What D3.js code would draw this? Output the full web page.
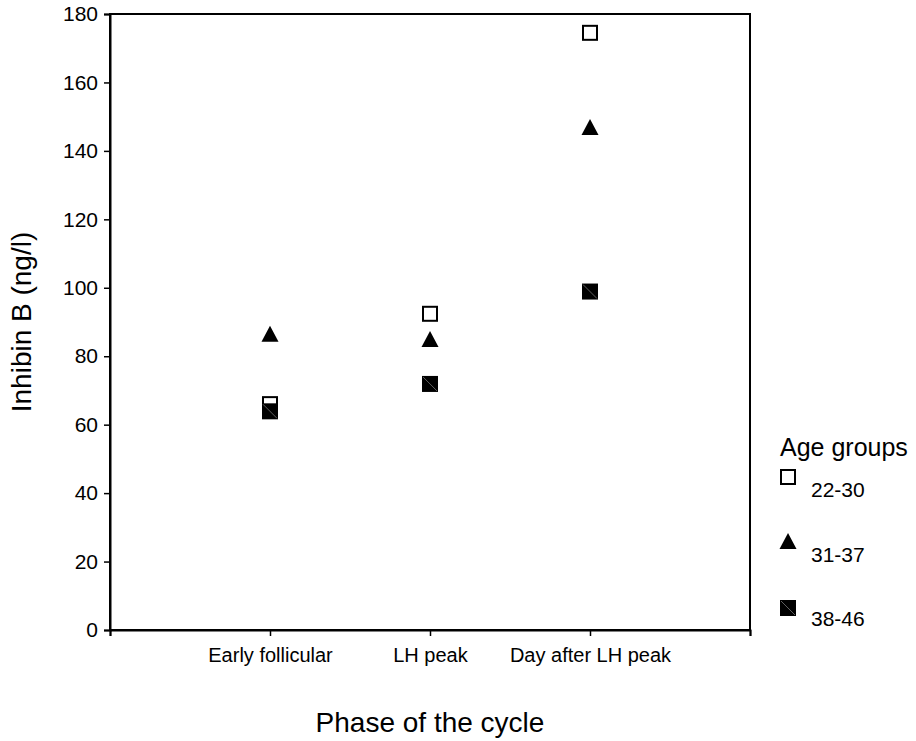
<!DOCTYPE html>
<html>
<head>
<meta charset="utf-8">
<script src="https://cdn.jsdelivr.net/npm/d3@7"></script>
<style>
  html, body { margin: 0; padding: 0; background: #fff; }
  svg { display: block; font-family: "Liberation Sans", Arial, sans-serif; }
</style>
</head>
<body>
<svg id="chart" width="916" height="741"></svg>
<script>
// Inhibin B by phase of the menstrual cycle, per age group
const phases = ["Early follicular", "LH peak", "Day after LH peak"];
const ageGroups = ["22-30", "31-37", "38-46"];
const inhibin2230 = [66.0, 92.4, 174.5];
const inhibin3137 = [86.6, 85.0, 147.0];
const inhibin3846 = [63.9, 71.9, 98.9];
const yTicks = [0, 20, 40, 60, 80, 100, 120, 140, 160, 180];

const series = [
  { name: ageGroups[0], values: inhibin2230, shape: "open" },
  { name: ageGroups[1], values: inhibin3137, shape: "triangle" },
  { name: ageGroups[2], values: inhibin3846, shape: "filled" }
];

const svg = d3.select("#chart");
const m = { left: 110, right: 750, top: 14, bottom: 630 };

// Categories sit at positions 1..3 of a 0..4 axis
const x = d3.scaleLinear().domain([0, phases.length + 1]).range([m.left, m.right]);
const y = d3.scaleLinear().domain([0, 180]).range([m.bottom, m.top]);

// Frame
svg.append("rect")
  .attr("x", m.left).attr("y", m.top)
  .attr("width", m.right - m.left).attr("height", m.bottom - m.top)
  .attr("fill", "none").attr("stroke", "#000").attr("stroke-width", 2);

// Y axis
const yAxis = svg.append("g")
  .attr("transform", `translate(${m.left},0)`)
  .call(d3.axisLeft(y).tickValues(yTicks).tickSize(6).tickPadding(6).tickFormat(d3.format("d")));
yAxis.select(".domain").attr("stroke-width", 2);
yAxis.selectAll(".tick line").attr("stroke-width", 1.5);
yAxis.selectAll(".tick text").attr("font-size", 21).attr("fill", "#000")
  .attr("font-family", "Liberation Sans, Arial, sans-serif");

// X axis
const xAxis = svg.append("g")
  .attr("transform", `translate(0,${m.bottom})`)
  .call(d3.axisBottom(x).tickValues(d3.range(0, phases.length + 2)).tickSize(6).tickPadding(12)
    .tickFormat(d => phases[d - 1] || ""));
xAxis.select(".domain").attr("stroke-width", 2);
xAxis.selectAll(".tick line").attr("stroke-width", 1.5);
xAxis.selectAll(".tick text").attr("font-size", 20).attr("fill", "#000")
  .attr("font-family", "Liberation Sans, Arial, sans-serif");

// Axis titles
svg.append("text")
  .attr("x", 430).attr("y", 732)
  .attr("text-anchor", "middle").attr("font-size", 28)
  .text("Phase of the cycle");
svg.append("text")
  .attr("transform", "translate(31,322) rotate(-90)")
  .attr("text-anchor", "middle").attr("font-size", 28)
  .text("Inhibin B (ng/l)");

// Marker drawing
const S = 16;
function drawMarker(g, shape) {
  if (shape === "open") {
    g.append("rect").attr("x", -S / 2 + 1).attr("y", -S / 2 + 1)
      .attr("width", S - 2).attr("height", S - 2)
      .attr("fill", "#fff").attr("stroke", "#000").attr("stroke-width", 2);
  } else if (shape === "triangle") {
    g.append("path")
      .attr("d", `M0,${-S / 2} L${S / 2 + 0.5},${S / 2} L${-S / 2 - 0.5},${S / 2} Z`)
      .attr("fill", "#000");
  } else {
    g.append("rect").attr("x", -S / 2).attr("y", -S / 2)
      .attr("width", S).attr("height", S).attr("fill", "#000");
    g.append("line")
      .attr("x1", -S / 2 + 1).attr("y1", -S / 2 + 1)
      .attr("x2", S / 2 - 1).attr("y2", S / 2 - 1)
      .attr("stroke", "#777").attr("stroke-width", 0.8);
  }
}

// Points
series.forEach(s => {
  s.values.forEach((v, i) => {
    const g = svg.append("g").attr("transform", `translate(${x(i + 1)},${y(v)})`);
    drawMarker(g, s.shape);
  });
});

// Legend
svg.append("text")
  .attr("x", 780).attr("y", 456).attr("font-size", 25)
  .text("Age groups");
const legendY = [477, 541, 608];
series.forEach((s, i) => {
  const cy = legendY[i];
  const g = svg.append("g").attr("transform", `translate(788,${cy})`);
  drawMarker(g, s.shape);
  svg.append("text")
    .attr("x", 811).attr("y", [497, 562, 626][i]).attr("font-size", 21)
    .text(s.name);
});
</script>
</body>
</html>
